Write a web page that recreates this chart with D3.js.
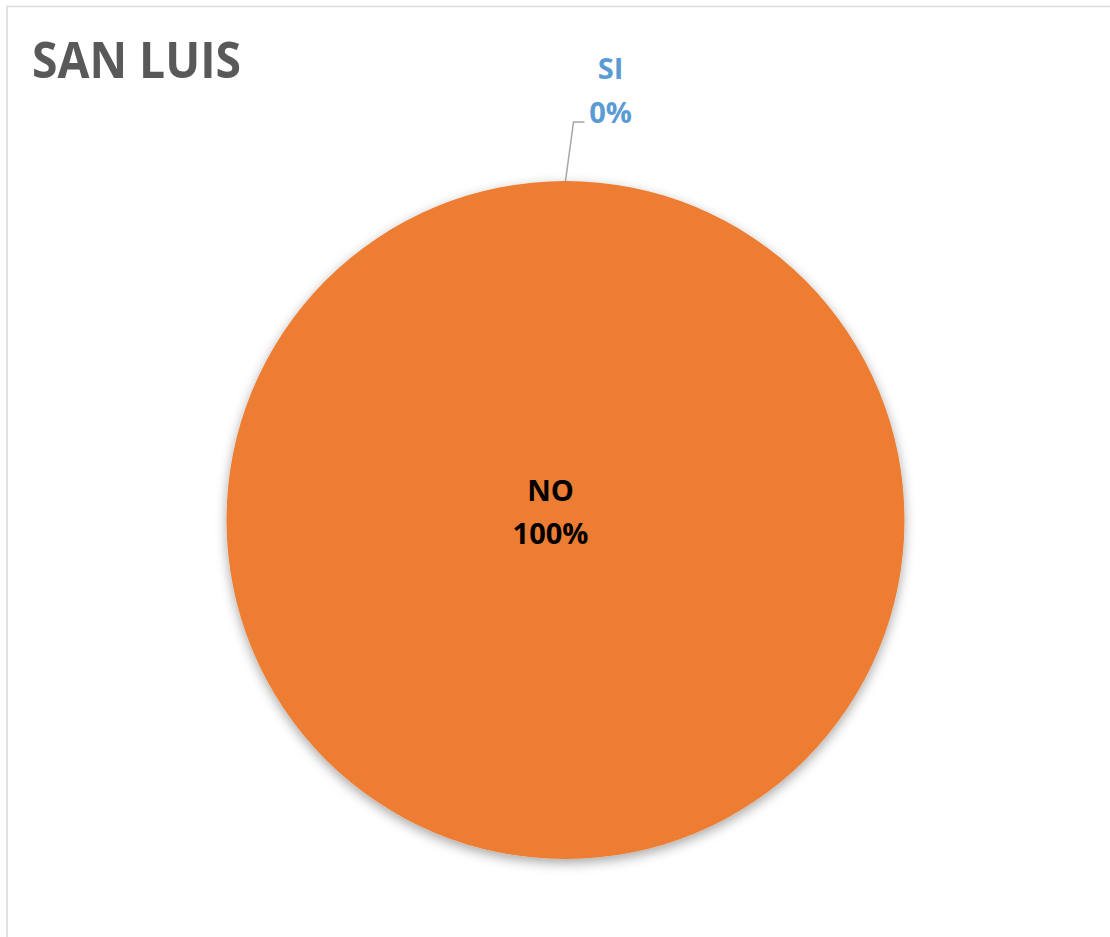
<!DOCTYPE html>
<html><head><meta charset="utf-8">
<script src="https://cdn.jsdelivr.net/npm/d3@7"></script>
<style>body{margin:0;background:#fff;}svg{display:block;}</style>
</head><body>
<svg id="c" width="1110" height="937"></svg>
<script>
const title = "SAN LUIS";
const categories = ["SI", "NO"];
const values = [0, 100];
const colors = ["#5B9BD5", "#ED7D31"];

const svg = d3.select("#c");
const W = 1110, H = 937;
svg.append("rect").attr("width", W).attr("height", H).attr("fill", "#fff");
svg.append("rect").attr("x", 7).attr("y", 6.5).attr("width", 1200).attr("height", 1000)
  .attr("fill", "none").attr("stroke", "#D9D9D9").attr("stroke-width", 1.5);

const defs = svg.append("defs");
const f = defs.append("filter").attr("id", "sh").attr("x", "-20%").attr("y", "-20%").attr("width", "140%").attr("height", "140%");
f.append("feDropShadow").attr("dx", 0).attr("dy", 4).attr("stdDeviation", 6)
  .attr("flood-color", "#000").attr("flood-opacity", 0.35);

svg.append("text").attr("x", 32).attr("y", 78).text(title)
  .attr("font-family", "Open Sans").attr("font-weight", 700).attr("font-size", 50)
  .attr("fill", "#595959").attr("textLength", 209).attr("lengthAdjust", "spacingAndGlyphs");

const cx = 565.5, cy = 520, r = 339;
const g = svg.append("g").attr("transform", `translate(${cx},${cy})`);
const data = categories.map((c, i) => ({ cat: c, val: values[i], color: colors[i] }));
const pie = d3.pie().sort(null).value(d => d.val);
const arcs = pie(data);
const arc = d3.arc().innerRadius(0).outerRadius(r);
const total = d3.sum(values);
const pct = v => d3.format(".0%")(v / total);

g.selectAll("path.s").data(arcs.filter(a => a.data.val > 0)).enter().append("path")
  .attr("class", "s").attr("d", arc).attr("fill", d => d.data.color)
  .attr("filter", "url(#sh)");

// labels
arcs.forEach(a => {
  if (a.data.val > 0) {
    const t = g.append("text").attr("text-anchor", "middle")
      .attr("font-family", "Open Sans").attr("font-weight", 700).attr("font-size", 29).attr("fill", "#000");
    t.append("tspan").attr("x", -15).attr("y", -19).text(a.data.cat);
    t.append("tspan").attr("x", -15).attr("y", 24).text(pct(a.data.val));
  } else {
    const rim = d3.arc().innerRadius(r).outerRadius(r).centroid(a);
    const p1 = [rim[0], rim[1]];
    const p2 = [rim[0] + 8, rim[1] - 59];
    const p3 = [p2[0] + 11, p2[1]];
    g.append("path").attr("d", d3.line()([p1, p2, p3]))
      .attr("fill", "none").attr("stroke", "#A6A6A6").attr("stroke-width", 1.5);
    const lx = p3[0] + 26, ly = p3[1];
    const t = g.append("text").attr("text-anchor", "middle")
      .attr("font-family", "Open Sans").attr("font-weight", 700).attr("font-size", 29).attr("fill", a.data.color);
    t.append("tspan").attr("x", lx).attr("y", ly - 43).text(a.data.cat);
    t.append("tspan").attr("x", lx).attr("y", ly + 1).text(pct(a.data.val));
  }
});
</script>
</body></html>
